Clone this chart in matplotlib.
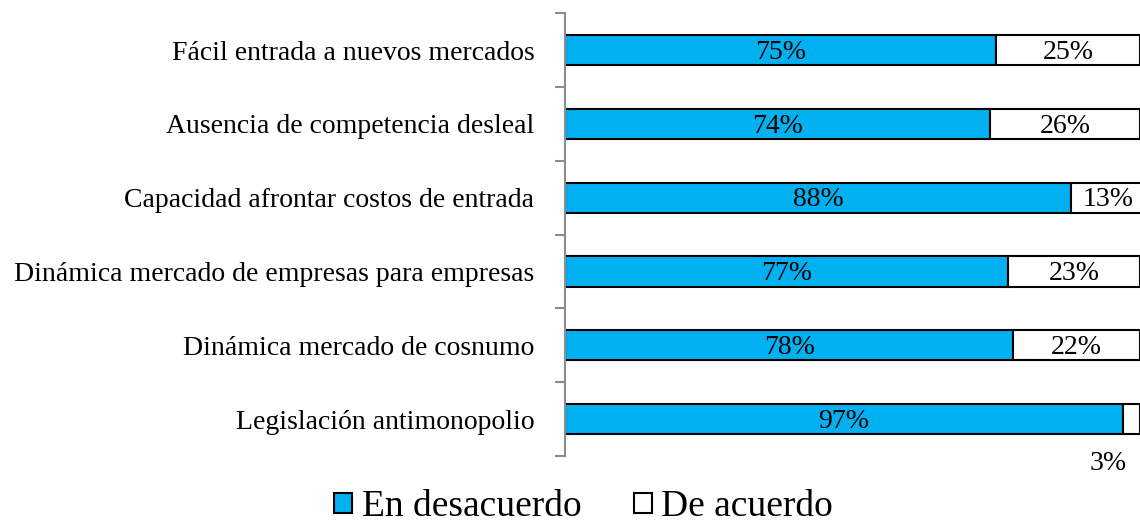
import matplotlib.pyplot as plt
import numpy as np

plt.rcParams['font.family'] = ['Liberation Serif', 'DejaVu Serif']

# categorias de arriba hacia abajo
categorias = [
    "Fácil entrada a nuevos mercados",
    "Ausencia de competencia desleal",
    "Capacidad afrontar costos de entrada",
    "Dinámica mercado de empresas para empresas",
    "Dinámica mercado de cosnumo",
    "Legislación antimonopolio",
]
desacuerdo = [75, 74, 88, 77, 78, 97]
acuerdo = [25, 26, 13, 23, 22, 3]

AZUL = "#00B0F0"
FS = 20

fig = plt.figure(figsize=(11.4, 5.29), dpi=100)
ax = fig.add_axes([0.4956, 0.138, 0.5044, 0.837])

y = np.arange(len(categorias))
h = 0.41
b1 = ax.barh(y, desacuerdo, height=h, color=AZUL, edgecolor="black",
             linewidth=1.5, label="En desacuerdo")
b2 = ax.barh(y, acuerdo, left=desacuerdo, height=h, color="white",
             edgecolor="black", linewidth=1.5, label="De acuerdo")

for i in range(len(categorias)):
    ax.text(desacuerdo[i] / 2, y[i] + 0.03, f"{desacuerdo[i]}%", ha="center",
            va="center", fontsize=FS)
    cx = desacuerdo[i] + acuerdo[i] / 2
    if acuerdo[i] >= 10:
        ax.text(cx, y[i] + 0.03, f"{acuerdo[i]}%", ha="center", va="center",
                fontsize=FS)
    else:
        # segmento muy angosto: etiqueta debajo de la barra
        ax.text(cx - 4, y[i] + 0.6, f"{acuerdo[i]}%", ha="center",
                va="center", fontsize=FS)

ax.set_xlim(0, 100)
ax.set_ylim(len(categorias) - 0.5, -0.5)
ax.set_yticks(y)
ax.set_yticklabels(categorias, fontsize=FS)
ax.tick_params(axis="y", which="major", length=0, pad=22)
ax.set_yticks(np.arange(len(categorias) + 1) - 0.5, minor=True)
ax.tick_params(axis="y", which="minor", length=7, width=1.5, color="#8c8c8c")
ax.set_xticks([])

for s in ["top", "right", "bottom"]:
    ax.spines[s].set_visible(False)
ax.spines["left"].set_color("#8c8c8c")
ax.spines["left"].set_linewidth(1.5)

fig.legend(handles=[b1, b2], loc="lower center", bbox_to_anchor=(0.512, -0.055),
           ncol=2, frameon=False, fontsize=27, handlelength=0.48,
           handleheight=0.48, handletextpad=0.25, columnspacing=1.4)

fig.savefig("out.png", dpi=100)
